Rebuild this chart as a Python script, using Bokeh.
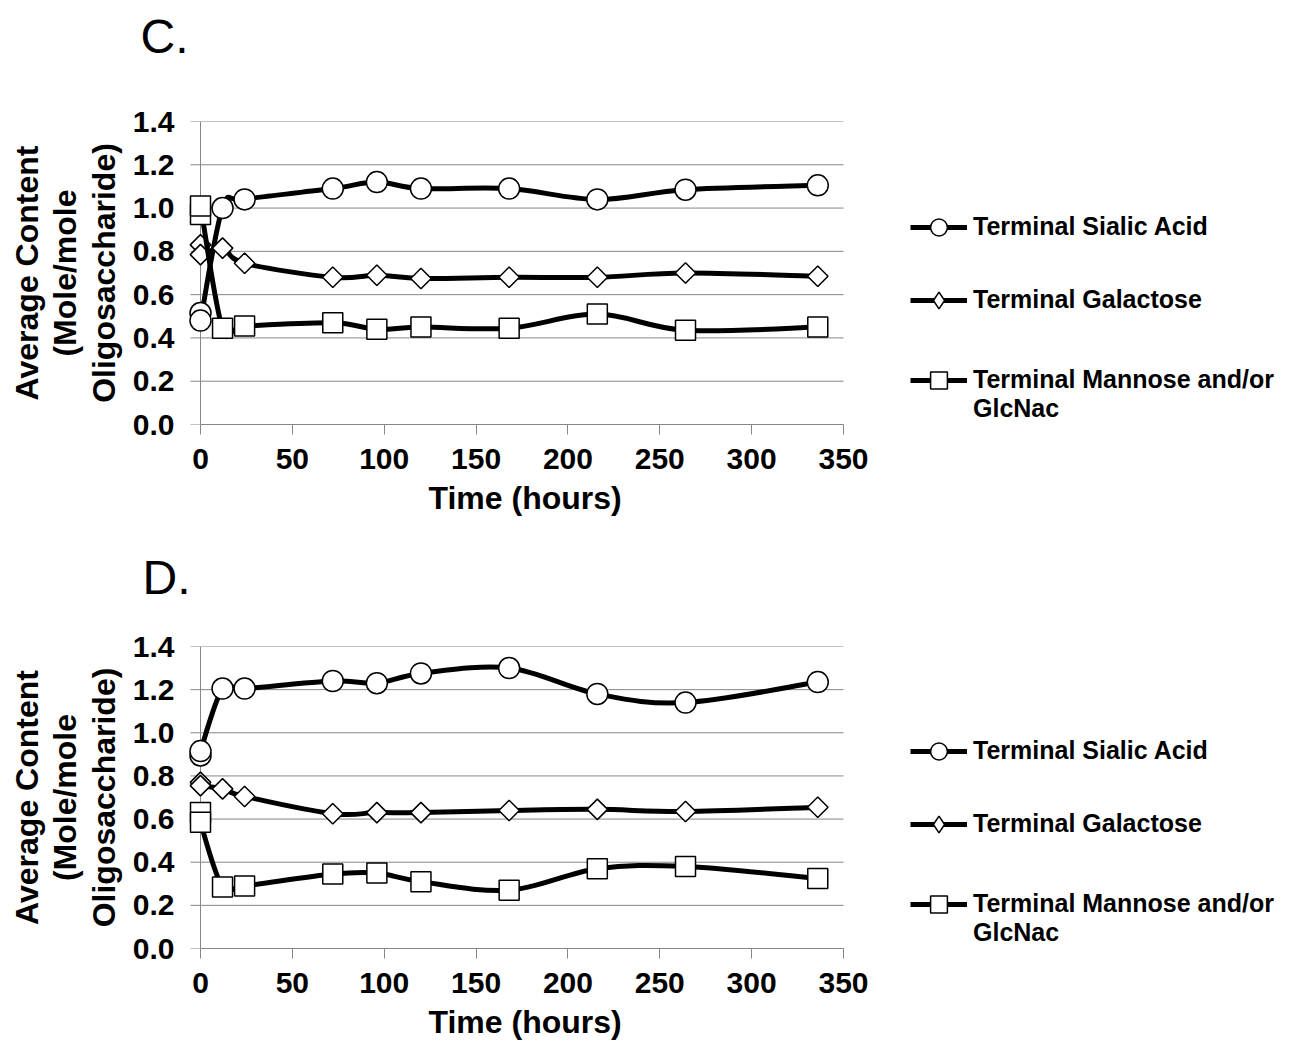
import math
from bokeh.plotting import figure
from bokeh.models import (Range1d, FixedTicker, Legend, LegendItem, Title,
                          ColumnDataSource, PrintfTickFormatter)
from bokeh.layouts import column
from bokeh.embed import file_html
from bokeh.resources import INLINE

# ---------------- data ----------------
time_h = [0, 0, 12, 24, 72, 96, 120, 168, 216, 264, 336]

sialic_c = [0.515, 0.48, 1.00, 1.04, 1.09, 1.12, 1.09, 1.09, 1.04, 1.085, 1.105]
galact_c = [0.83, 0.785, 0.815, 0.745, 0.68, 0.69, 0.675, 0.68, 0.68, 0.70, 0.685]
mannos_c = [0.97, 1.01, 0.445, 0.455, 0.47, 0.44, 0.45, 0.445, 0.51, 0.435, 0.45]

sialic_d = [0.895, 0.915, 1.205, 1.205, 1.24, 1.23, 1.275, 1.30, 1.18, 1.14, 1.235]
galact_d = [0.77, 0.755, 0.74, 0.705, 0.625, 0.63, 0.63, 0.64, 0.645, 0.635, 0.655]
mannos_d = [0.63, 0.585, 0.285, 0.29, 0.345, 0.35, 0.31, 0.27, 0.37, 0.38, 0.325]

series_names = ["Terminal Sialic Acid", "Terminal Galactose",
                " \nTerminal Mannose and/or\nGlcNac"]
panel_letters = ["C.", "D."]
x_ticks = [0, 50, 100, 150, 200, 250, 300, 350]
y_ticks = [0.0, 0.2, 0.4, 0.6, 0.8, 1.0, 1.2, 1.4]
x_title = "Time (hours)"
y_title = "Average Content\n(Mole/mole\nOligosaccharide)"

FONT = "Liberation Sans"
GRAY = "#868686"

# layout (pixels)
W = 1296
FRAME_L = 180          # frame starts a little left of x=0 so first markers are whole
AXIS_X0 = 200          # pixel of x = 0
AXIS_X1 = 843          # pixel of x = 350
PX_PER_H = (AXIS_X1 - AXIS_X0) / (x_ticks[-1] - x_ticks[0])
X_START = x_ticks[0] - (AXIS_X0 - FRAME_L) / PX_PER_H
X_END = x_ticks[0] + (W - AXIS_X0) / PX_PER_H   # frame extends under the legend
TICK_LEN = 10 / PX_PER_H


def smooth(xs, ys):
    """Bezier control points for a smoothed line through the points."""
    n = len(xs)
    d = dict(x0=[], y0=[], x1=[], y1=[], cx0=[], cy0=[], cx1=[], cy1=[])
    for i in range(n - 1):
        xm, ym = (xs[i - 1], ys[i - 1]) if i > 0 else (xs[i], ys[i])
        xp, yp = (xs[i + 2], ys[i + 2]) if i + 2 < n else (xs[i + 1], ys[i + 1])
        d["x0"].append(xs[i]); d["y0"].append(ys[i])
        d["x1"].append(xs[i + 1]); d["y1"].append(ys[i + 1])
        d["cx0"].append(xs[i] + (xs[i + 1] - xm) / 6.0)
        d["cy0"].append(ys[i] + (ys[i + 1] - ym) / 6.0)
        d["cx1"].append(xs[i + 1] - (xp - xs[i]) / 6.0)
        d["cy1"].append(ys[i + 1] - (yp - ys[i]) / 6.0)
    return d


def make_panel(letter, values, height, spacer_standoff, title_offset, legend_dy):
    p = figure(width=W, height=height,
               x_range=Range1d(X_START, X_END),
               y_range=Range1d(y_ticks[0], y_ticks[-1]),
               output_backend="svg", toolbar_location=None,
               min_border_left=FRAME_L, min_border_right=0,
               min_border_top=121, min_border_bottom=height - 424)
    p.outline_line_color = None
    p.background_fill_color = "white"
    p.xgrid.visible = False
    p.ygrid.visible = False

    # horizontal gridlines (with the outward tick) and the vertical axis line at x=0
    p.segment(x0=[x_ticks[0] - TICK_LEN] * len(y_ticks), x1=[x_ticks[-1]] * len(y_ticks),
              y0=y_ticks, y1=y_ticks, line_color=GRAY, line_width=1)
    p.segment(x0=[x_ticks[0]], x1=[x_ticks[0]], y0=[y_ticks[0]], y1=[y_ticks[-1]],
              line_color=GRAY, line_width=1)

    items = []
    for k, (name, ys) in enumerate(zip(series_names, values)):
        src = ColumnDataSource(dict(x=time_h, y=ys))
        lr = p.bezier(source=ColumnDataSource(smooth(time_h, ys)),
                      x0="x0", y0="y0", x1="x1", y1="y1",
                      cx0="cx0", cy0="cy0", cx1="cx1", cy1="cy1",
                      line_color="black", line_width=5)
        if k == 0:
            mr = p.scatter("x", "y", source=src, marker="circle", size=21,
                           fill_color="white", line_color="black", line_width=1.5)
            key = mr
        elif k == 1:
            # diamond legend key, sits fully inside the rotated squares drawn over it
            key = p.scatter("x", "y", source=src, marker="diamond", size=19,
                            fill_color="white", line_color="black", line_width=1.5)
            mr = p.scatter("x", "y", source=src, marker="square", size=14.5,
                           angle=math.pi / 4, fill_color="white",
                           line_color="black", line_width=1.5)
        else:
            mr = p.scatter("x", "y", source=src, marker="square", size=20,
                           fill_color="white", line_color="black", line_width=1.5)
            key = mr
        items.append(LegendItem(label=name, renderers=[lr, key]))

    # axes
    xa = p.xaxis[0]
    xa.ticker = FixedTicker(ticks=x_ticks)
    xa.bounds = (x_ticks[0], x_ticks[-1])
    xa.axis_line_color = GRAY
    xa.major_tick_line_color = GRAY
    xa.major_tick_out = 10
    xa.major_tick_in = 0
    xa.minor_tick_line_color = None
    xa.major_label_text_font = FONT
    xa.major_label_text_font_style = "bold"
    xa.major_label_text_font_size = "30px"
    xa.major_label_text_color = "black"
    xa.major_label_standoff = 14
    xa.axis_label = None

    ya = p.yaxis[0]
    ya.ticker = FixedTicker(ticks=y_ticks)
    ya.bounds = (y_ticks[0], y_ticks[-1])
    ya.formatter = PrintfTickFormatter(format="%.1f")
    ya.axis_line_color = None
    ya.major_tick_line_color = None
    ya.major_tick_out = 0
    ya.major_tick_in = 0
    ya.minor_tick_line_color = None
    ya.major_label_text_font = FONT
    ya.major_label_text_font_style = "bold"
    ya.major_label_text_font_size = "30px"
    ya.major_label_text_color = "black"
    ya.major_label_standoff = 6
    ya.axis_label = y_title
    ya.axis_label_text_font = FONT
    ya.axis_label_text_font_style = "bold"
    ya.axis_label_text_font_size = "32px"
    ya.axis_label_text_line_height = 1.07
    ya.axis_label_text_color = "black"
    ya.axis_label_standoff = 8

    # x axis title, centred under the 0-350 span of the axis
    p.add_layout(Title(text=x_title, text_font=FONT, text_font_style="bold",
                       text_font_size="32px", text_color="black", align="left",
                       vertical_align="top", offset=428 - FRAME_L, standoff=16), "below")

    legend = Legend(items=items, location=(910 - FRAME_L, legend_dy), orientation="vertical",
                    glyph_width=57, glyph_height=42, label_height=73,
                    label_standoff=6, spacing=0,
                    padding=0, margin=0, border_line_alpha=0,
                    background_fill_alpha=0,
                    label_text_font=FONT, label_text_font_style="bold",
                    label_text_font_size="25px",
                    label_text_color="black")
    p.add_layout(legend)

    p.title = None
    p.add_layout(Title(text=" ", text_font_size="20px", standoff=spacer_standoff), "above")
    p.add_layout(Title(text=letter, text_font=FONT, text_font_style="normal",
                       text_font_size="48px", text_color="black", align="left",
                       offset=title_offset, standoff=0), "above")
    return p


pc = make_panel(panel_letters[0], [sialic_c, galact_c, mannos_c], 525, 35, -40, 1)
pd_ = make_panel(panel_letters[1], [sialic_d, galact_d, mannos_d], 524, 19, -38, 1)

layout = column(pc, pd_, spacing=0)
open("out.html", "w").write(file_html(layout, INLINE))
